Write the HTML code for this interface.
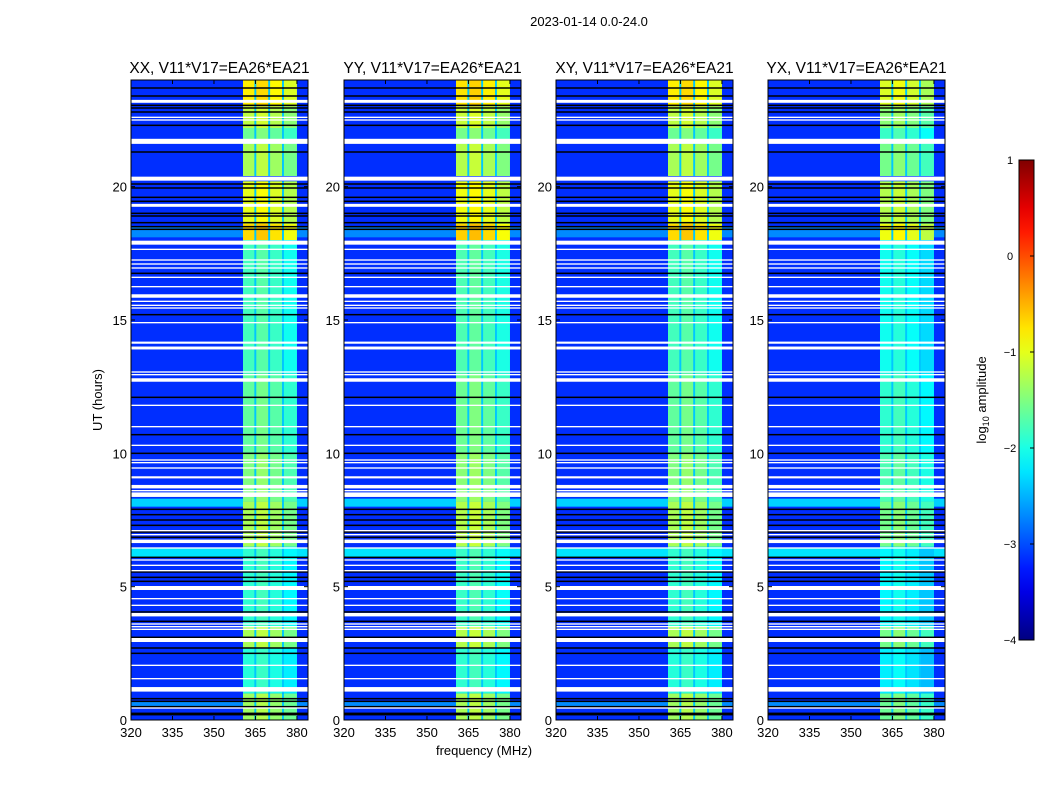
<!DOCTYPE html>
<html><head><meta charset="utf-8"><style>
body{margin:0;background:#fff;width:1050px;height:800px;overflow:hidden;font-family:"Liberation Sans",sans-serif}
svg{display:block}
</style></head><body>
<svg id="fig" width="1050" height="800" xmlns="http://www.w3.org/2000/svg">
<text x="589" y="26" font-size="13" text-anchor="middle">2023-01-14 0.0-24.0</text>
<g id="panels"></g>
<text x="484" y="755" font-size="13" text-anchor="middle">frequency (MHz)</text>
<text transform="translate(102,400) rotate(-90)" font-size="13" text-anchor="middle">UT (hours)</text>
<defs><linearGradient id="cbg" x1="0" y1="1" x2="0" y2="0"></linearGradient></defs>
<g id="cbar"></g>
</svg>
<script>
const NS="http://www.w3.org/2000/svg";
const panelTitles=["XX, V11*V17=EA26*EA21","YY, V11*V17=EA26*EA21","XY, V11*V17=EA26*EA21","YX, V11*V17=EA26*EA21"];
const panelOffsets=[0,0.05,0,-0.25];
const xTicks=[320,335,350,365,380];
const yTicks=[0,5,10,15,20];
const cbTicks=[-4,-3,-2,-1,0,1];
const bgDefault=-3.15;
// [startHour,endHour,level] background (non-RFI channels)
const bgSegments=[[6.1,6.45,-2.25],[8.0,8.3,-2.35],[18.1,18.5,-2.7],[0.5,0.7,-2.7]];
// [startHour,endHour,level] RFI band level
const bandSegments=[[0,1,-1.35],[1,2.7,-1.95],[2.7,3.5,-1.3],[3.5,6.5,-1.9],[6.5,8.2,-1.3],[8.2,10,-1.5],[10,13,-1.65],[13,18,-1.8],[18,18.6,-0.7],[18.6,20.2,-1.0],[20.4,21.6,-1.3],[21.6,22.2,-1.6],[22.2,23,-1.2],[23,24,-0.8]];
// RFI sub-bands [startMHz,endMHz,offset]
const subBands=[[360.5,364.6,0],[365.3,369.6,0.1],[370.3,374.6,-0.05],[375.3,380,-0.25]];
const gapLevel=-2.4;
// white (flagged) lines: [hour, widthHours]
const whiteFlags=[[23.2,0.11],[22.6,0.05],[22.5,0.05],[21.7,0.19],[20.3,0.15],[19.3,0.11],[17.9,0.15],[17.65,0.05],[17.25,0.05],[17.1,0.05],[16.95,0.05],[16.6,0.05],[16.25,0.05],[15.9,0.13],[15.7,0.05],[15.55,0.05],[15.45,0.05],[14.9,0.05],[14.15,0.08],[13.95,0.11],[13.05,0.05],[12.95,0.05],[12.75,0.13],[11.8,0.05],[11.0,0.05],[10.3,0.05],[9.75,0.05],[9.65,0.05],[9.45,0.05],[9.1,0.08],[8.75,0.13],[8.6,0.05],[8.45,0.17],[7.1,0.05],[6.95,0.05],[6.7,0.13],[6.45,0.05],[6.0,0.05],[5.8,0.05],[5.6,0.05],[4.95,0.15],[4.55,0.05],[4.3,0.05],[3.95,0.13],[3.6,0.05],[3.5,0.05],[3.4,0.05],[3.0,0.15],[2.05,0.05],[1.55,0.05],[1.15,0.17],[0.45,0.05]];
// black lines: [hour]
const blackLines=[23.7,23.4,23.05,22.95,22.8,22.3,21.3,20.1,19.95,19.6,19.45,19.0,18.9,18.65,18.5,18.4,16.75,15.2,12.1,10.7,10.0,7.9,7.7,7.5,7.3,7.05,6.85,6.1,5.55,5.35,5.2,4.05,3.7,3.1,2.7,2.5,0.8,0.7,0.5,0.25,0.2];

const lefts=[131,344,556,768], PW=177, TOP=80, PH=640;
const fMin=320,fMax=384,tMin=0,tMax=24,vMin=-4,vMax=1;
function jet(v){let t=(v-vMin)/(vMax-vMin);t=Math.max(0,Math.min(1,t));
 const c=x=>Math.round(255*Math.max(0,Math.min(1,x)));
 return `rgb(${c(1.5-Math.abs(4*t-3))},${c(1.5-Math.abs(4*t-2))},${c(1.5-Math.abs(4*t-1))})`;}
function mk(tag,attrs,parent){const e=document.createElementNS(NS,tag);for(const k in attrs)e.setAttribute(k,attrs[k]);parent.appendChild(e);return e;}
const root=document.getElementById('panels');
lefts.forEach((L,pi)=>{
 const xs=f=>L+(f-fMin)/(fMax-fMin)*PW;
 const ys=h=>TOP+PH-(h-tMin)/(tMax-tMin)*PH;
 const g=mk('g',{},root);
 
 
 const bgr=mk('rect',{x:L,y:TOP,width:PW,height:PH,fill:jet(bgDefault)},g);
 
 
 bgSegments.forEach(s=>{const r=mk('rect',{x:L,y:ys(s[1]),width:PW,height:ys(s[0])-ys(s[1]),fill:jet(s[2])},g);
  
  });
 bandSegments.forEach(s=>{
  const gr=mk('rect',{x:xs(subBands[0][0]),y:ys(s[1]),width:xs(subBands[subBands.length-1][1])-xs(subBands[0][0]),height:ys(s[0])-ys(s[1]),fill:jet(gapLevel)},g);
  
  
  subBands.forEach(b=>{const r=mk('rect',{x:xs(b[0]),y:ys(s[1]),width:xs(b[1])-xs(b[0]),height:ys(s[0])-ys(s[1]),fill:jet(s[2]+b[2]+panelOffsets[pi])},g);
   
   });
 });
 blackLines.forEach(h=>{const r=mk('rect',{x:L,y:ys(h)-0.75,width:PW,height:1.5,fill:'#000'},g);
  
  });
 whiteFlags.forEach(w=>{const r=mk('rect',{x:L,y:ys(w[0]+w[1]/2),width:PW,height:w[1]/24*PH,fill:'#fff'},g);
  
  });
 const fr=mk('rect',{x:L,y:TOP,width:PW,height:PH,fill:'none',stroke:'#000','stroke-width':1},g);
 
 
 const t=mk('text',{x:L+PW/2,y:TOP-7,'font-size':15.5,'text-anchor':'middle'},g);t.textContent=panelTitles[pi];
 
 
 xTicks.forEach(f=>{mk('line',{x1:xs(f),x2:xs(f),y1:TOP+PH,y2:TOP+PH-4,stroke:'#000'},g);mk('line',{x1:xs(f),x2:xs(f),y1:TOP,y2:TOP+4,stroke:'#000'},g);
  const tx=mk('text',{x:xs(f),y:TOP+PH+17,'font-size':13,'text-anchor':'middle'},g);tx.textContent=f;
  
  });
 yTicks.forEach(h=>{mk('line',{x1:L,x2:L+4,y1:ys(h),y2:ys(h),stroke:'#000'},g);mk('line',{x1:L+PW,x2:L+PW-4,y1:ys(h),y2:ys(h),stroke:'#000'},g);
  const ty=mk('text',{x:L-4,y:ys(h)+5,'font-size':13,'text-anchor':'end'},g);ty.textContent=h;
  
  });
});
// colorbar
const grad=document.getElementById('cbg');
for(let i=0;i<=20;i++){const v=vMin+(vMax-vMin)*i/20;mk('stop',{offset:(i/20),'stop-color':jet(v)},grad);}
const cb=document.getElementById('cbar');
const CBX=1019,CBW=15,CBT=160,CBH=480;
mk('rect',{x:CBX,y:CBT,width:CBW,height:CBH,fill:'url(#cbg)',stroke:'#000','stroke-width':1},cb);
const cys=v=>CBT+CBH-(v-vMin)/(vMax-vMin)*CBH;
cbTicks.forEach(v=>{mk('line',{x1:CBX+CBW,x2:CBX+CBW-4,y1:cys(v),y2:cys(v),stroke:'#000'},cb);
 const t=mk('text',{x:1010,y:cys(v)+4,'font-size':11,'text-anchor':'middle'},cb);t.textContent=v<0?'\u2212'+(-v):String(v);
 
 });
const cl=mk('text',{transform:'translate(986,400) rotate(-90)','font-size':13,'text-anchor':'middle'},cb);
cl.innerHTML='log<tspan font-size="9" dy="3">10</tspan><tspan dy="-3"> amplitude</tspan>';


</script>
</body></html>
